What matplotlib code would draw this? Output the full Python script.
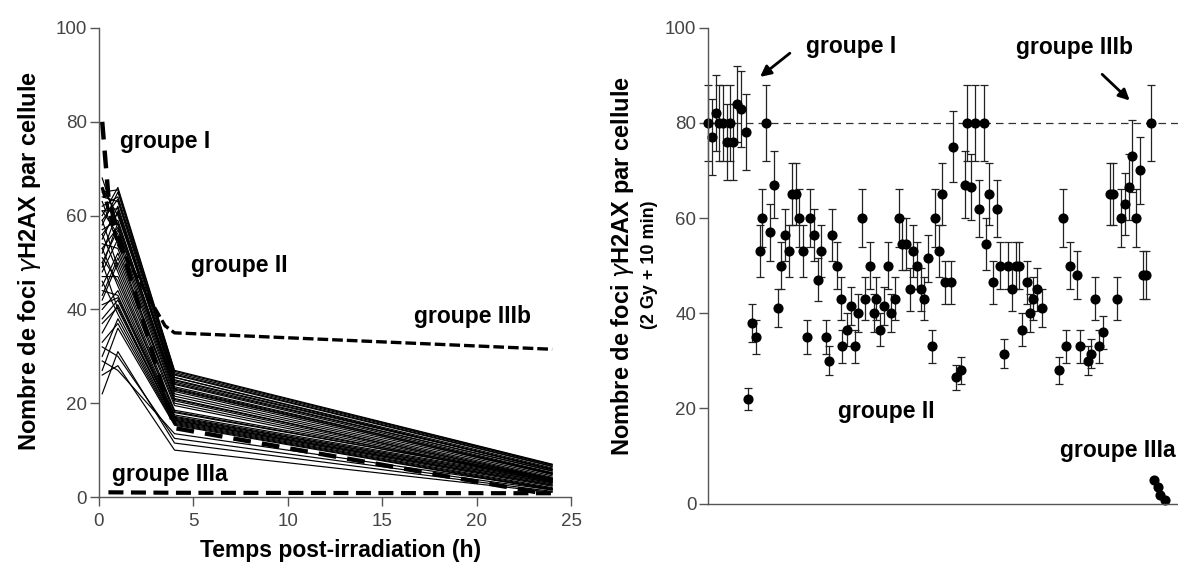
import matplotlib
matplotlib.use('Agg')
import matplotlib.pyplot as plt

plt.rcParams['font.family'] = ['Liberation Sans', 'DejaVu Sans']
plt.rcParams['mathtext.fontset'] = 'dejavusans'

# ---- left panel: kinetics (h) ----
t_grp2 = [0.17, 1, 4, 24]
grp2_lines = [
    [60, 66, 27, 7], [62, 64, 26.5, 6.8], [58, 65, 26, 6.5], [64, 63, 25.5, 6.2],
    [55, 62, 25, 6], [66, 60, 25.5, 5.8], [52, 61, 24.5, 5.5], [68, 58, 24, 5.2],
    [57, 59, 23.5, 5], [50, 57, 23, 4.8], [61, 56, 22.5, 4.5], [48, 55, 22, 4.2],
    [63, 54, 21.5, 4], [45, 52, 21, 3.8], [54, 53, 20.5, 3.6], [42, 50, 20, 3.4],
    [59, 49, 19.5, 3.2], [56, 48, 18.5, 4], [47, 47, 18, 3.8], [53, 45, 17.5, 3.5],
    [40, 44, 17.2, 3.3], [44, 43, 17, 3], [38, 42, 16.6, 2.8], [50, 40, 16.3, 2.5],
    [35, 41, 16.1, 2.3], [46, 39, 15.9, 2], [30, 38, 15.7, 1.8], [33, 37, 15.5, 1.6],
    [27, 36, 15.3, 1.5], [22, 31, 11.5, 1.2], [26, 28, 10, 1.0], [32, 30, 12.5, 1.5],
    [29, 27, 13.5, 1.8],
    [65, 65.5, 26.8, 6.9], [59, 63.5, 26.2, 6.6], [61, 61.5, 24.8, 5.9], [56, 60.5, 24.2, 5.6],
    [49, 58.5, 23.2, 5.1], [53, 57.5, 22.8, 4.9], [43, 51, 20.8, 3.9], [51, 46, 18.2, 3.7],
    [41, 42.5, 16.8, 3.1], [37, 40.5, 16.4, 2.6],
]
t_grp1 = [0.17, 0.5, 1, 4, 23.5]
grp1 = [80, 64, 56, 14.7, 0.8]
t_grp3b = [0.17, 1, 3.5, 4, 24]
grp3b = [66, 54, 36.5, 35, 31.5]
t_grp3a = [0.5, 4, 24]
grp3a = [1.0, 0.9, 0.8]

# ---- right panel: foci at 2 Gy + 10 min, per patient ----
pos = [0, 1, 2, 3, 4, 5, 6, 6.7, 7.7, 9, 10.2, 10.8, 11.8, 13, 14, 14.7, 15.8, 16.8, 18, 19,
       19.8, 21, 22, 22.8, 24, 24.8, 25.8, 27, 27.8, 28.8, 29.8, 30.8, 32, 32.8, 33.8, 35, 36,
       36.5, 37.8, 38.8, 40, 40.8, 41.8, 42.8, 44, 45, 45.8, 46.8, 47.8, 49, 49.8, 50.8, 51.8,
       52.8, 53.8, 54.8, 55.8, 56.8, 57.8, 58.8, 59.8, 60.8, 61.8, 62.8, 63.6, 64.5, 66, 66.5,
       67.5, 68.7, 69.8, 70.5, 71.5, 72.5, 73.7, 75, 75.5, 76.5, 77.5, 78.7, 79.5, 80.5, 81.5,
       82.7, 83.8, 84.5, 85.5, 86.7, 87.7, 88.5, 89.5, 90.8, 95.5, 96.7, 97.3, 98.5, 100.5,
       101.3, 103.3, 104.3, 105.3, 106.3, 107.5, 109.5, 110.3, 111.3, 112.3, 113.5, 114.5,
       115.3, 116.5, 117.5, 118.3, 119.3, 120.5, 121.5, 122.5, 123, 124.3]
foci = [80, 77, 82, 80, 80, 76, 80, 76, 84, 83, 78, 22, 38, 35, 53, 60, 80, 57, 67, 41,
        50, 56.5, 53, 65, 65, 60, 53, 35, 60, 56.5, 47, 53, 35, 30, 56.5, 50, 43, 33, 36.5,
        41.5, 33, 40, 60, 43, 50, 40, 43, 36.5, 41.5, 50, 40, 43, 60, 54.5, 54.5, 45, 53, 50,
        45, 43, 51.5, 33, 60, 53, 65, 46.5, 46.5, 75, 26.5, 28, 67, 80, 66.5, 80, 62, 80, 54.5,
        65, 46.5, 62, 50, 31.5, 50, 45, 50, 50, 36.5, 46.5, 40, 43, 45, 41, 28, 60, 33, 50,
        48, 33, 30, 31.5, 43, 33, 36, 65, 65, 43, 60, 63, 66.5, 73, 60, 70, 48, 48, 80,
        5, 3.5, 1.7, 0.8]
foci_err = [8, 8, 8, 8, 8, 8, 8, 8, 8, 8, 8, 2.3, 4, 3.5, 5.5, 6, 8, 6, 7, 4,
            5, 5.5, 5.5, 6.5, 6.5, 6, 5.5, 3.5, 6, 5.5, 4.5, 5.5, 3.5, 3, 5.5, 5, 4.5, 3.5, 3.5,
            4, 3.5, 4, 6, 4.5, 5, 4, 4.5, 3.5, 4, 5, 4, 4.5, 6, 5.5, 5.5, 4.5, 5.5, 5,
            4.5, 4.5, 5, 3.5, 6, 5.5, 6.5, 4.5, 4.5, 7.5, 2.7, 2.8, 7, 8, 7, 8, 6, 8, 5.5,
            6.5, 4.5, 6, 5, 3, 5, 4.5, 5, 5, 3.5, 4.5, 4, 4.5, 4.5, 4, 2.8, 6, 3.5, 5,
            5, 3.5, 3, 3, 4.5, 3.5, 3.5, 6.5, 6.5, 4.5, 6, 6.5, 7, 7.5, 6, 7, 5, 5, 8,
            0, 0, 0, 0]
ref_level = 80

W, H = 1178, 563
fig = plt.figure(figsize=(W / 100, H / 100), dpi=100)

axis_col = '#555555'
tick_col = '#444444'
bold_size = 16.5
ylab = r'Nombre de foci $\gamma$H2AX par cellule'


def style_axes(ax):
    for s in ['top', 'right']:
        ax.spines[s].set_visible(False)
    for s in ['left', 'bottom']:
        ax.spines[s].set_color(axis_col)
        ax.spines[s].set_linewidth(1.0)
    ax.tick_params(colors=axis_col, labelcolor=tick_col, labelsize=13.5,
                   length=6.5, width=1.0, pad=2)


# left axes
ax1 = fig.add_axes([99 / W, 1 - 497 / H, (571 - 99) / W, (497 - 28) / H])
for vals in grp2_lines:
    ax1.plot(t_grp2, vals, color='black', lw=0.85)
ax1.plot(t_grp1, grp1, color='black', lw=3.2, dashes=(4, 2.5))
ax1.plot(t_grp3b, grp3b, color='black', lw=2.4, dashes=(3.2, 1.2))
ax1.plot(t_grp3a, grp3a, color='black', lw=3.0, dashes=(3.6, 1.8))
ax1.set_xlim(0, 25)
ax1.set_ylim(0, 100)
ax1.set_xticks([0, 5, 10, 15, 20, 25])
ax1.set_yticks([0, 20, 40, 60, 80, 100])
style_axes(ax1)
ax1.tick_params(axis='x', pad=5)

ax1.text(1.1, 75.9, 'groupe I', fontsize=bold_size, fontweight='bold', ha='left', va='center')
ax1.text(7.44, 49.3, 'groupe II', fontsize=bold_size, fontweight='bold', ha='center', va='center')
ax1.text(19.8, 38.4, 'groupe IIIb', fontsize=bold_size, fontweight='bold', ha='center', va='center')
ax1.text(0.68, 4.9, 'groupe IIIa', fontsize=bold_size, fontweight='bold', ha='left', va='center')

fig.text(30 / W, 1 - 261 / H, ylab, rotation=90,
         fontsize=17, fontweight='bold', ha='center', va='center')
fig.text(340.5 / W, 1 - 550 / H, 'Temps post-irradiation (h)', fontsize=bold_size,
         fontweight='bold', ha='center', va='center')

# right axes
xmax = 127.9
ax2 = fig.add_axes([708.3 / W, 1 - 503.5 / H, (W - 708.3) / W, (503.5 - 27.7) / H])
ax2.axhline(ref_level, color='#333333', lw=0.9, dashes=(6, 4))
ax2.errorbar(pos, foci, yerr=foci_err, fmt='o', color='black', ms=6.3,
             ecolor='#222222', elinewidth=0.9, capsize=2.6, capthick=0.9, clip_on=False)
ax2.set_xlim(0, xmax)
ax2.set_ylim(0, 100)
ax2.set_xticks([])
ax2.set_yticks([0, 20, 40, 60, 80, 100])
style_axes(ax2)

ax2.text(38.9, 96.0, 'groupe I', fontsize=bold_size, fontweight='bold', ha='center', va='center')
ax2.annotate('', xy=(13.5, 89.3), xytext=(22.8, 95.0),
             arrowprops=dict(arrowstyle='-|>', color='black', lw=2, mutation_scale=16))
ax2.text(99.6, 95.9, 'groupe IIIb', fontsize=bold_size, fontweight='bold', ha='center', va='center')
ax2.annotate('', xy=(115.3, 84.3), xytext=(106.7, 90.6),
             arrowprops=dict(arrowstyle='-|>', color='black', lw=2, mutation_scale=16))
ax2.text(48.4, 19.3, 'groupe II', fontsize=bold_size, fontweight='bold', ha='center', va='center')
ax2.text(127.3, 11.1, 'groupe IIIa', fontsize=bold_size, fontweight='bold', ha='right', va='center')

fig.text(622 / W, 1 - 266 / H, ylab, rotation=90,
         fontsize=17, fontweight='bold', ha='center', va='center')
fig.text(650 / W, 1 - 265 / H, '(2 Gy + 10 min)', rotation=90,
         fontsize=13, fontweight='bold', ha='center', va='center')

fig.savefig('out.png', dpi=100)
